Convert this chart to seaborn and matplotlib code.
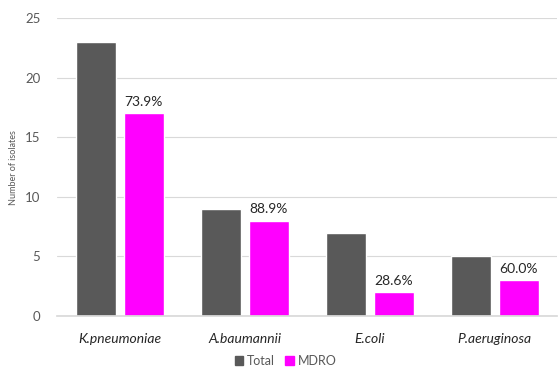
import matplotlib
matplotlib.use("Agg")
import matplotlib.pyplot as plt
import seaborn as sns
import pandas as pd
from matplotlib.patches import Patch

categories = ["K.pneumoniae", "A.baumannii", "E.coli", "P.aeruginosa"]
total = [23, 9, 7, 5]
mdro = [17, 8, 2, 3]
pct_labels = ["73.9%", "88.9%", "28.6%", "60.0%"]
series = ["Total", "MDRO"]

df = pd.DataFrame({
    "category": categories * 2,
    "value": total + mdro,
    "series": [series[0]] * 4 + [series[1]] * 4,
})

sns.set_theme(style="white")
plt.rcParams["font.family"] = ["Lato", "DejaVu Sans"]

fig = plt.figure(figsize=(5.6, 3.68), dpi=100)
ax = fig.add_axes([0.102, 0.141, 0.893, 0.810])
palette = {"Total": "#595959", "MDRO": "#FF00FF"}
sns.barplot(data=df, x="category", y="value", hue="series", palette=palette,
            width=0.77, gap=0.167, ax=ax, legend=False, saturation=1)

ax.set_ylim(0, 25)
ax.set_yticks([0, 5, 10, 15, 20, 25])
ax.yaxis.grid(True, color="#d9d9d9", linewidth=0.8)
ax.set_axisbelow(True)
for s in ["top", "right", "left"]:
    ax.spines[s].set_visible(False)
ax.spines["bottom"].set_color("#d9d9d9")
ax.tick_params(axis="y", length=0, colors="#595959", labelsize=9.5, pad=12)
ax.tick_params(axis="x", length=0, colors="#262626", labelsize=10, pad=12)
for t in ax.get_xticklabels():
    t.set_fontstyle("italic")
ax.set_xlabel("")
ax.set_ylabel("Number of isolates", fontsize=6.5, color="#595959")
ax.yaxis.set_label_coords(-0.078, 0.5)
ax.set_xlim(-0.5, 3.5)

mdro_container = ax.containers[1]
ax.bar_label(mdro_container, labels=pct_labels, padding=4, fontsize=10, color="#262626")

handles = [Patch(color=palette[s], label=s) for s in series]
fig.legend(handles=handles, loc="center", bbox_to_anchor=(0.51, 0.02), ncol=2,
           frameon=False, fontsize=9, handlelength=0.7, handleheight=0.7,
           handletextpad=0.3, columnspacing=0.8, labelcolor="#595959")

fig.savefig("out.png", dpi=100)
